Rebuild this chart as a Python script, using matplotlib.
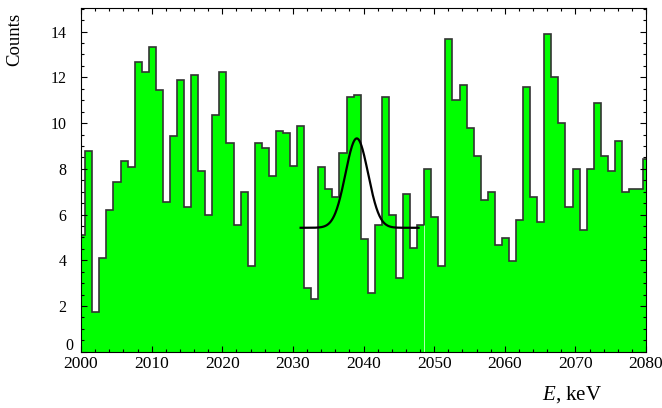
"""Energy spectrum around 2039 keV with a Gaussian peak on flat background."""
import numpy as np
import matplotlib
matplotlib.use("Agg")
import matplotlib.pyplot as plt
from matplotlib.ticker import MultipleLocator, FuncFormatter

plt.rcParams["font.family"] = ["Liberation Serif", "DejaVu Serif"]
plt.rcParams["mathtext.fontset"] = "custom"
plt.rcParams["mathtext.it"] = "Liberation Serif:italic"
plt.rcParams["mathtext.rm"] = "Liberation Serif"

# histogram: 1 keV bins, edges shifted by 0.6 keV; axis shows 2000..2080
bin_lo = 1999.6
bin_width = 1.0
counts = [
    5.10, 8.78, 1.75, 4.11, 6.21, 7.43, 8.34, 8.10, 12.68, 12.24,
    13.34, 11.46, 6.56, 9.45, 11.90, 6.33, 12.11, 7.89, 5.99, 10.34,
    12.24, 9.11, 5.54, 7.00, 3.76, 9.11, 8.89, 7.68, 9.66, 9.55,
    8.12, 9.88, 2.80, 2.32, 8.09, 7.11, 6.78, 8.67, 11.12, 11.22,
    4.91, 2.55, 5.54, 11.12, 5.98, 3.24, 6.88, 4.55, 5.54, 7.99,
    5.87, 3.76, 13.67, 11.02, 11.68, 9.80, 8.57, 6.65, 7.00, 4.65,
    4.99, 3.98, 5.76, 11.56, 6.75, 5.66, 13.91, 12.00, 9.99, 6.31,
    7.99, 5.32, 7.99, 10.87, 8.57, 7.89, 9.20, 7.00, 7.10, 7.10,
    8.43,
]

# fitted peak: flat background + gaussian, drawn over its fit range
fit_lo, fit_hi = 2031.1, 2047.8
fit_base = 5.42
fit_amp = 3.91
fit_mu = 2039.05
fit_sigma = 1.6

edges = bin_lo + bin_width * np.arange(len(counts) + 1)

fig = plt.figure(figsize=(6.62, 4.08), dpi=100)
ax = fig.add_axes([81 / 662, 1 - 351.7 / 408, 565 / 662, 343.4 / 408])

ax.stairs(counts, edges, fill=True, color="#00ff00", linewidth=0)
ax.stairs(counts, edges, color="#333333", linewidth=1.2)
# faint light seam visible in the original fill
seam = edges[49]
ax.vlines(seam, 0, min(counts[48], counts[49]), color="#d0ffd0", linewidth=0.6)

xf = np.linspace(fit_lo, fit_hi, 300)
yf = fit_base + fit_amp * np.exp(-0.5 * ((xf - fit_mu) / fit_sigma) ** 2)
ax.plot(xf, yf, color="black", linewidth=1.6)

ax.set_xlim(2000, 2080)
ax.set_ylim(0, 15.02)
ax.xaxis.set_major_locator(MultipleLocator(10))
ax.xaxis.set_minor_locator(MultipleLocator(2))
ax.yaxis.set_major_locator(MultipleLocator(2))
ax.yaxis.set_minor_locator(MultipleLocator(0.5))
ax.yaxis.set_major_formatter(FuncFormatter(lambda v, p: "" if v == 0 else f"{v:g}"))
ax.tick_params(which="both", direction="in", top=True, right=True)
ax.tick_params(which="major", length=4.3, width=0.8)
ax.tick_params(which="minor", length=2.2, width=0.8)
ax.tick_params(axis="y", pad=10.3, labelsize=11.5)
ax.tick_params(axis="x", pad=3.0, labelsize=12.5)
for s in ax.spines.values():
    s.set_linewidth(0.8)

# the zero label sits shifted up, as in the source
ax.annotate("0", xy=(0, 0), xycoords="axes fraction", xytext=(-5.4, 4.3),
            textcoords="offset points", ha="right", va="center", fontsize=11.5)

fig.text(15 / 662, 1 - 39 / 408, "Counts", rotation=90, ha="center", va="center", fontsize=13.5)
fig.text(571.7 / 662, 8 / 408, r"$\mathit{E}$, keV", ha="center", va="baseline", fontsize=15)

fig.savefig("out.png", dpi=100)
